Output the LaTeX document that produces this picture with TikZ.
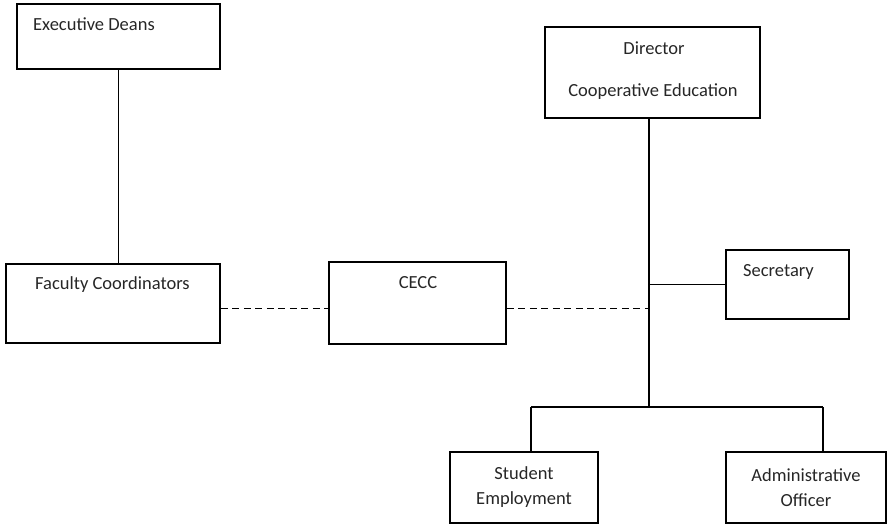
\documentclass[tikz,border=0pt]{standalone}
\usepackage{fontspec}
\setmainfont{Carlito}
\usetikzlibrary{positioning}

\begin{document}
\begin{tikzpicture}[
  x=1pt, y=-1pt,
  font=\fontsize{18.5}{25}\selectfont,
  text=black!85,
  box/.style={draw, line width=1.9pt, inner sep=0pt},
  link/.style={line width=1.5pt},
  dotted link/.style={line width=1pt, dash pattern=on 7pt off 4.5pt}
]

\useasboundingbox (0,0) rectangle (888,525);

% Left side: deans and coordinators
\node[box, minimum width=203pt, minimum height=65pt] (deans) at (118.5,36.5) {};
\node[anchor=west, inner sep=0pt] (deanstxt) at (33,24) {Executive Deans};
\node[box, minimum width=214pt, minimum height=79pt] (faculty) at (113,303.5) {};
\node[anchor=west, inner sep=0pt] (facultytxt) at (35,285) {Faculty Coordinators};

% Middle: committee
\node[box, minimum width=177pt, minimum height=82pt] (cecc) at (417.5,303) {};
\node[inner sep=0pt] (cecctxt) at (418,283) {CECC};

% Right side: director and staff
\node[box, minimum width=215pt, minimum height=91pt] (director) at (652.5,72.5) {};
\node[inner sep=0pt] (dirtxt) at (654,48) {Director};
\node[inner sep=0pt] (coedtxt) at (653,92) {Cooperative Education};
\node[box, minimum width=123pt, minimum height=69pt] (secretary) at (787.5,284.5) {};
\node[anchor=west, inner sep=0pt] (sectxt) at (743,272) {Secretary};
\node[box, minimum width=148pt, minimum height=71pt, align=center] (student) at (524,487.5) {Student\\Employment};
\node[box, minimum width=160pt, minimum height=71pt, align=center] (admin) at (806,487.5) {Administrative\\Officer};

% junction points on the trunk
\coordinate (hub) at (649,308);
\coordinate (sbus) at (531,407);
\coordinate (abus) at (823,407);

\draw[link] (deans.south) -- (deans.south |- faculty.north);
\draw[dotted link] (faculty.east |- hub) -- (cecc.west |- hub);
\draw[dotted link] (cecc.east |- hub) -- (hub);
\draw[link] (hub |- director.south) -- (hub |- sbus);
\draw[link] (secretary.west -| hub) -- (secretary.west);
\draw[link] (sbus) -- (abus);
\draw[link] (sbus) -- (sbus |- student.north);
\draw[link] (abus) -- (abus |- admin.north);

\end{tikzpicture}
\end{document}
